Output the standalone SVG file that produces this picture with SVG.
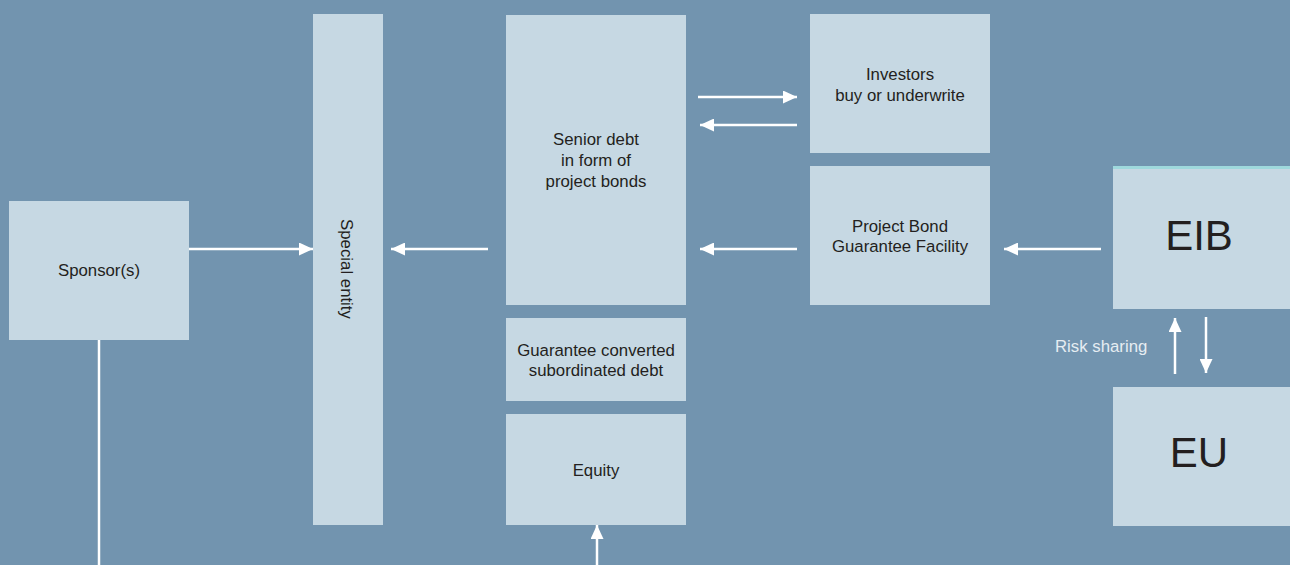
<svg xmlns="http://www.w3.org/2000/svg" width="1290" height="565" viewBox="0 0 1290 565">
  <style>
    .box { fill: #c6d8e3; }
    .lbl { font-family: "Liberation Sans", Arial, sans-serif; font-size: 16.8px; fill: #231f20; text-anchor: middle; }
    .big { font-family: "Liberation Sans", Arial, sans-serif; font-size: 42px; fill: #231f20; text-anchor: middle; }
    .conn { stroke: #ffffff; stroke-width: 2.5; fill: none; }
    .note { font-family: "Liberation Sans", Arial, sans-serif; font-size: 16.8px; fill: #e6edf2; }
  </style>
  <defs>
    <marker id="arr" viewBox="0 0 14 13" refX="14" refY="6.5" markerWidth="14" markerHeight="13" markerUnits="userSpaceOnUse" orient="auto">
      <path d="M0,0 L14,6.5 L0,13 z" fill="#ffffff"/>
    </marker>
  </defs>
  <rect width="1290" height="565" fill="#7294af"/>

  <g id="sponsor">
    <rect class="box" x="9" y="201" width="180" height="139"/>
    <text class="lbl" x="99" y="276">Sponsor(s)</text>
  </g>
  <g id="special-entity">
    <rect class="box" x="313" y="14" width="70" height="511"/>
    <text class="lbl" transform="translate(341,269) rotate(90)">Special entity</text>
  </g>
  <g id="senior-debt">
    <rect class="box" x="506" y="15" width="180" height="290"/>
    <text class="lbl" x="596" y="145">Senior debt</text>
    <text class="lbl" x="596" y="166">in form of</text>
    <text class="lbl" x="596" y="187">project bonds</text>
  </g>
  <g id="subordinated-debt">
    <rect class="box" x="506" y="318" width="180" height="83"/>
    <text class="lbl" x="596" y="356">Guarantee converted</text>
    <text class="lbl" x="596" y="376">subordinated debt</text>
  </g>
  <g id="equity">
    <rect class="box" x="506" y="414" width="180" height="111"/>
    <text class="lbl" x="596" y="476">Equity</text>
  </g>
  <g id="investors">
    <rect class="box" x="810" y="14" width="180" height="139"/>
    <text class="lbl" x="900" y="80">Investors</text>
    <text class="lbl" x="900" y="101">buy or underwrite</text>
  </g>
  <g id="pbgf">
    <rect class="box" x="810" y="166" width="180" height="139"/>
    <text class="lbl" x="900" y="232">Project Bond</text>
    <text class="lbl" x="900" y="252">Guarantee Facility</text>
  </g>
  <g id="eib">
    <rect class="box" x="1113" y="166" width="177" height="143"/>
    <rect x="1113" y="166" width="177" height="3" fill="#9ed8dc"/>
    <text class="big" x="1199" y="250">EIB</text>
  </g>
  <g id="eu">
    <rect class="box" x="1113" y="387" width="177" height="139"/>
    <text class="big" x="1199" y="467">EU</text>
  </g>

  <g id="connectors">
    <line class="conn" x1="189" y1="249" x2="313" y2="249" marker-end="url(#arr)"/>
    <line class="conn" x1="488" y1="249" x2="391" y2="249" marker-end="url(#arr)"/>
    <line class="conn" x1="797" y1="249" x2="700" y2="249" marker-end="url(#arr)"/>
    <line class="conn" x1="1101" y1="249" x2="1004" y2="249" marker-end="url(#arr)"/>
    <line class="conn" x1="698" y1="97" x2="797" y2="97" marker-end="url(#arr)"/>
    <line class="conn" x1="797" y1="125" x2="700" y2="125" marker-end="url(#arr)"/>
    <line class="conn" x1="1175" y1="374" x2="1175" y2="318" marker-end="url(#arr)"/>
    <line class="conn" x1="1206" y1="317" x2="1206" y2="373" marker-end="url(#arr)"/>
    <line class="conn" x1="597" y1="565" x2="597" y2="525" marker-end="url(#arr)"/>
    <line class="conn" x1="99" y1="340" x2="99" y2="565"/>
    <text class="note" x="1055" y="352">Risk sharing</text>
  </g>
</svg>
